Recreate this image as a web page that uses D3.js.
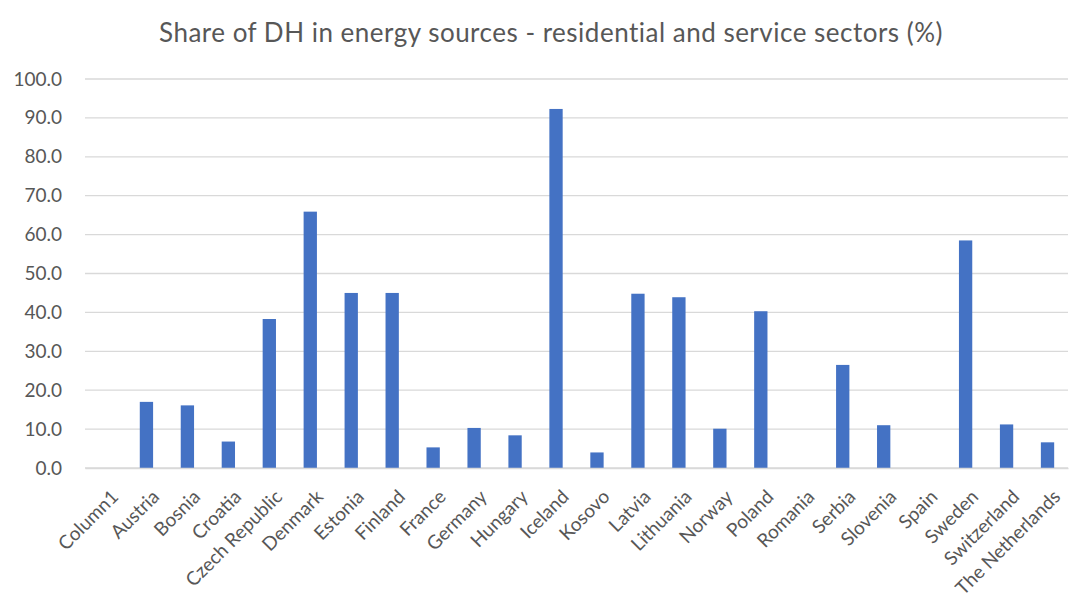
<!DOCTYPE html>
<html>
<head>
<meta charset="utf-8">
<script src="https://cdn.jsdelivr.net/npm/d3@7"></script>
<style>
  html, body { margin: 0; padding: 0; background: #ffffff; }
  svg { display: block; font-family: Lato, "Open Sans", sans-serif; }
</style>
</head>
<body>
<svg id="chart" width="1091" height="601"></svg>
<script>
// Share of district heating per country (%), residential and service sectors
const countries = [
  "Column1", "Austria", "Bosnia", "Croatia", "Czech Republic", "Denmark",
  "Estonia", "Finland", "France", "Germany", "Hungary", "Iceland", "Kosovo",
  "Latvia", "Lithuania", "Norway", "Poland", "Romania", "Serbia", "Slovenia",
  "Spain", "Sweden", "Switzerland", "The Netherlands"
];
const shares = [
  null, 17.0, 16.1, 6.8, 38.3, 65.9,
  45.0, 45.0, 5.3, 10.3, 8.4, 92.3, 4.0,
  44.8, 43.9, 10.1, 40.3, null, 26.5, 11.0,
  null, 58.5, 11.2, 6.6
];
const yTicks = [0, 10, 20, 30, 40, 50, 60, 70, 80, 90, 100];
const titleText = "Share of DH in energy sources - residential and service sectors (%)";

const svg = d3.select("#chart");
const plot = { left: 85, right: 1068, top: 79, bottom: 468 };

const x = d3.scaleBand()
  .domain(countries)
  .range([plot.left, plot.right])
  .paddingInner(0.675)
  .paddingOuter(0.3375);

const y = d3.scaleLinear()
  .domain([0, 100])
  .range([plot.bottom, plot.top]);

// Title
svg.append("text")
  .attr("x", 551)
  .attr("y", 42)
  .attr("text-anchor", "middle")
  .attr("fill", "#575757")
  .style("font-size", "26px")
  .style("letter-spacing", "0.5px")
  .text(titleText);

// Horizontal gridlines
svg.append("g")
  .selectAll("line")
  .data(yTicks)
  .join("line")
  .attr("x1", plot.left)
  .attr("x2", plot.right)
  .attr("y1", d => y(d))
  .attr("y2", d => y(d))
  .attr("stroke", "#d9d9d9")
  .attr("stroke-width", 1.3);

// Y axis labels
const yAxis = svg.append("g")
  .attr("transform", `translate(${plot.left},0)`)
  .call(d3.axisLeft(y).tickValues(yTicks).tickFormat(d3.format(".1f")).tickSize(0).tickPadding(23));
yAxis.select(".domain").remove();
yAxis.selectAll("text")
  .attr("fill", "#575757")
  .style("font-size", "19px")
  .style("font-family", "Lato, 'Open Sans', sans-serif");

// Bars
const rows = countries.map((c, i) => ({ country: c, value: shares[i] }))
  .filter(d => d.value !== null);

svg.append("g")
  .selectAll("rect")
  .data(rows)
  .join("rect")
  .attr("x", d => x(d.country))
  .attr("width", x.bandwidth())
  .attr("y", d => y(d.value))
  .attr("height", d => y(0) - y(d.value))
  .attr("fill", "#4472c4");

// X axis with rotated category labels
const xAxis = svg.append("g")
  .attr("transform", `translate(0,${plot.bottom})`)
  .call(d3.axisBottom(x).tickSize(0).tickPadding(0));
xAxis.select(".domain").attr("stroke", "#d9d9d9").attr("stroke-width", 1.3);
xAxis.selectAll("text")
  .attr("fill", "#575757")
  .style("font-size", "19px")
  .style("font-family", "Lato, 'Open Sans', sans-serif")
  .attr("text-anchor", "end")
  .attr("dy", null)
  .attr("y", 0)
  .attr("transform", "translate(14,30) rotate(-45)");
</script>
</body>
</html>
